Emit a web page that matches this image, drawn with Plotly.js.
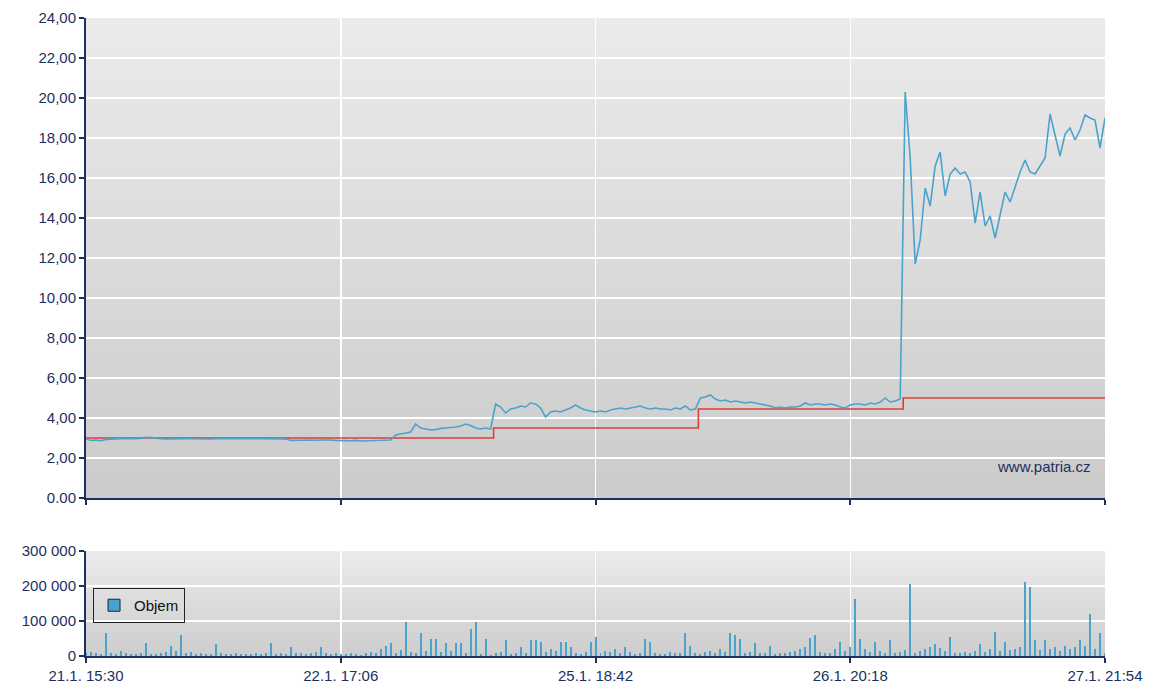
<!DOCTYPE html>
<html>
<head>
<meta charset="utf-8">
<script src="https://cdn.plot.ly/plotly-3.0.1.min.js"></script>
<style>
html,body{margin:0;padding:0;background:#fff;}
#chart{width:1149px;height:697px;}
</style>
</head>
<body>
<div id="chart"></div>
<script>
// ---- data ----
const xTickLabels = ['21.1. 15:30', '22.1. 17:06', '25.1. 18:42', '26.1. 20:18', '27.1. 21:54'];
const xTickIdx = [0, 51, 102, 153, 204];

const priceTickVals = [0, 2, 4, 6, 8, 10, 12, 14, 16, 18, 20, 22, 24];
const priceTickText = ['0.00', '2,00', '4,00', '6,00', '8,00', '10,00', '12,00', '14,00', '16,00', '18,00', '20,00', '22,00', '24,00'];
const volTickVals = [0, 100000, 200000, 300000];
const volTickText = ['0', '100 000', '200 000', '300 000'];

const price = [
  2.95, 2.88, 2.9, 2.86, 2.93, 2.95,
  2.97, 2.96, 2.98, 2.97, 2.96, 2.99, 3.03,
  3.02, 2.98, 2.96, 2.95, 2.96, 2.95, 2.96, 2.97,
  2.96, 2.95, 2.97, 2.96, 2.95, 2.96, 2.98, 2.96, 2.95, 2.96, 2.97, 2.96, 2.95, 2.96, 2.97,
  2.96, 2.98, 2.97, 2.96, 2.95,
  2.88, 2.9, 2.89, 2.9, 2.88, 2.89, 2.9, 2.91, 2.9, 2.88, 2.86, 2.87, 2.86, 2.88, 2.85, 2.86, 2.87, 2.88, 2.89, 2.9, 2.9,
  3.15, 3.2, 3.25, 3.3, 3.7, 3.5, 3.45, 3.4, 3.42, 3.48, 3.5, 3.52, 3.55, 3.6, 3.7, 3.62, 3.5, 3.45, 3.5, 3.45,
  4.7, 4.55, 4.25, 4.45, 4.5, 4.6, 4.55, 4.75, 4.7, 4.5, 4.05, 4.3, 4.35, 4.3, 4.4, 4.5, 4.65, 4.5, 4.4, 4.35,
  4.3, 4.35, 4.3, 4.4, 4.45, 4.5, 4.45, 4.5, 4.55, 4.6, 4.5, 4.45, 4.5, 4.45, 4.45, 4.4, 4.5, 4.45, 4.6, 4.4, 4.45,
  5.0, 5.05, 5.15, 4.95, 4.85, 4.9, 4.8, 4.85, 4.8, 4.75, 4.8, 4.75, 4.7, 4.65, 4.6, 4.5, 4.55, 4.5, 4.55, 4.55,
  4.6, 4.75, 4.65, 4.7, 4.7, 4.65, 4.7, 4.65, 4.55, 4.5, 4.65, 4.7, 4.7, 4.65, 4.75, 4.7, 4.8, 5.0, 4.8, 4.85, 4.95,
  20.3, 17.0, 11.7, 12.9, 15.5, 14.6, 16.6, 17.3, 15.1, 16.2, 16.5, 16.2, 16.3, 15.8, 13.75, 15.3, 13.6, 14.1, 13.0, 14.1,
  15.3, 14.8, 15.6, 16.3, 16.9, 16.3, 16.2, 16.6, 17.0, 19.2, 18.2, 17.1, 18.2, 18.5, 17.9, 18.4, 19.15, 19.0, 18.9, 17.5, 19.0
];

// previous-close reference (step line)
const refX = [0, 81.6, 122.6, 163.6, 204];
const refPrice = [3.0, 3.5, 4.45, 5.0, 5.0];

const volume = [
  8000, 12000, 9000, 6000, 66000, 10000, 7000, 14000, 9000, 6000,
  5000, 8000, 37000, 7000, 5000, 9000, 12000, 30000, 15000, 60000,
  8000, 12000, 6000, 9000, 5000, 7000, 35000, 9000, 6000, 5000,
  8000, 6000, 7000, 5000, 9000, 6000, 8000, 37000, 7000, 9000,
  6000, 25000, 8000, 10000, 7000, 9000, 12000, 25000, 8000, 6000,
  9000, 7000, 5000, 8000, 6000, 4000, 10000, 12000, 8000, 20000,
  28000, 37000, 9000, 18000, 97000, 12000, 8000, 66000, 14000, 50000,
  50000, 12000, 37000, 15000, 37000, 37000, 10000, 77000, 97000, 6000,
  50000, 4000, 9000, 12000, 45000, 6000, 10000, 25000, 8000, 45000,
  45000, 40000, 12000, 20000, 15000, 40000, 40000, 25000, 8000, 6000,
  12000, 40000, 55000, 10000, 15000, 12000, 20000, 8000, 25000, 12000,
  7000, 9000, 50000, 40000, 8000, 5000, 7000, 12000, 10000, 9000,
  66000, 30000, 8000, 6000, 12000, 15000, 8000, 20000, 12000, 66000,
  60000, 50000, 10000, 12000, 37000, 8000, 9000, 30000, 6000, 10000,
  8000, 12000, 15000, 20000, 25000, 51000, 60000, 12000, 10000, 8000,
  20000, 40000, 15000, 25000, 163000, 50000, 20000, 12000, 40000, 15000,
  10000, 45000, 8000, 12000, 18000, 206000, 8000, 15000, 20000, 25000,
  35000, 22000, 15000, 55000, 10000, 8000, 12000, 10000, 15000, 35000,
  12000, 20000, 69000, 15000, 40000, 18000, 20000, 25000, 212000, 197000,
  45000, 18000, 45000, 20000, 25000, 15000, 30000, 20000, 25000, 45000,
  30000, 120000, 20000, 66000, 10000
];

// ---- styling ----
const navy = '#1c2f5e';
const blue = '#4ba3cc';
const red = '#d9403a';
const FONT = 'Liberation Sans, Arial, sans-serif';
const idx = price.map((_, i) => i);
const volIdx = volume.map((_, i) => i);

function gradUri(c1, c2) {
  const svg = '<svg xmlns="http://www.w3.org/2000/svg" width="10" height="100" viewBox="0 0 10 100" preserveAspectRatio="none">' +
    '<defs><linearGradient id="g" x1="0" y1="0" x2="0" y2="1">' +
    '<stop offset="0" stop-color="' + c1 + '"/><stop offset="1" stop-color="' + c2 + '"/></linearGradient></defs>' +
    '<rect x="0" y="0" width="10" height="100" fill="url(#g)"/></svg>';
  return 'data:image/svg+xml;charset=utf-8,' + encodeURIComponent(svg);
}

const W = 1149, H = 697;
const mL = 86, mR = 44, mT = 18, mB = 41;
const plotH = H - mT - mB;
const priceDomain = [(656 - 498) / plotH, 1];
const volDomain = [0, (656 - 551) / plotH];

const traces = [
  {
    x: refX, y: refPrice, type: 'scatter', mode: 'lines',
    line: {color: red, width: 1.6, shape: 'hv'},
    xaxis: 'x', yaxis: 'y', showlegend: false, hoverinfo: 'skip'
  },
  {
    x: idx, y: price, type: 'scatter', mode: 'lines',
    line: {color: blue, width: 1.6},
    xaxis: 'x', yaxis: 'y', showlegend: false
  },
  {
    x: volIdx, y: volume, type: 'bar', width: 0.4,
    marker: {color: blue, line: {width: 0}},
    xaxis: 'x2', yaxis: 'y2', showlegend: false
  },
  {
    x: [null], y: [null], type: 'bar', name: 'Objem',
    marker: {color: blue, line: {color: '#1a2540', width: 1}},
    xaxis: 'x2', yaxis: 'y2', showlegend: true
  }
];

const axisCommon = {
  showline: true, linecolor: navy, linewidth: 2,
  ticks: 'outside', ticklen: 5, tickwidth: 2, tickcolor: navy,
  showgrid: true, gridcolor: '#ffffff', gridwidth: 1.5,
  zeroline: false,
  tickfont: {family: FONT, size: 15, color: navy}
};

const layout = {
  width: W, height: H,
  margin: {l: mL, r: mR, t: mT, b: mB},
  paper_bgcolor: '#ffffff',
  plot_bgcolor: 'rgba(0,0,0,0)',
  bargap: 0,
  xaxis: Object.assign({}, axisCommon, {
    domain: [0, 1], range: [0, 204], anchor: 'y',
    tickmode: 'array', tickvals: xTickIdx, showticklabels: false
  }),
  yaxis: Object.assign({}, axisCommon, {
    domain: priceDomain, range: [0, 24], anchor: 'x',
    tickmode: 'array', tickvals: priceTickVals, ticktext: priceTickText
  }),
  xaxis2: Object.assign({}, axisCommon, {
    domain: [0, 1], range: [0, 204], anchor: 'y2', matches: 'x',
    tickmode: 'array', tickvals: xTickIdx, ticktext: xTickLabels
  }),
  yaxis2: Object.assign({}, axisCommon, {
    domain: volDomain, range: [0, 300000], anchor: 'x2',
    tickmode: 'array', tickvals: volTickVals, ticktext: volTickText
  }),
  images: [
    {
      source: gradUri('#ebebeb', '#cbcbcb'), xref: 'paper', yref: 'paper',
      x: 0, y: priceDomain[1], sizex: 1, sizey: priceDomain[1] - priceDomain[0],
      xanchor: 'left', yanchor: 'top', sizing: 'stretch', layer: 'below'
    },
    {
      source: gradUri('#ebebeb', '#cdcdcd'), xref: 'paper', yref: 'paper',
      x: 0, y: volDomain[1], sizex: 1, sizey: volDomain[1] - volDomain[0],
      xanchor: 'left', yanchor: 'top', sizing: 'stretch', layer: 'below'
    }
  ],
  annotations: [
    {
      text: 'www.patria.cz', xref: 'paper', yref: 'y', x: 0.988, y: 1.6,
      xanchor: 'right', yanchor: 'middle', showarrow: false,
      font: {family: FONT, size: 15, color: navy}
    }
  ],
  showlegend: true,
  legend: {
    x: 0.0069, y: 0.1066, xanchor: 'left', yanchor: 'top',
    bgcolor: 'rgba(0,0,0,0)', bordercolor: '#222222', borderwidth: 1,
    font: {family: FONT, size: 15, color: '#111111'},
    itemwidth: 30
  },
  hovermode: false
};

Plotly.newPlot('chart', traces, layout, {displayModeBar: false, staticPlot: true});
</script>
</body>
</html>
